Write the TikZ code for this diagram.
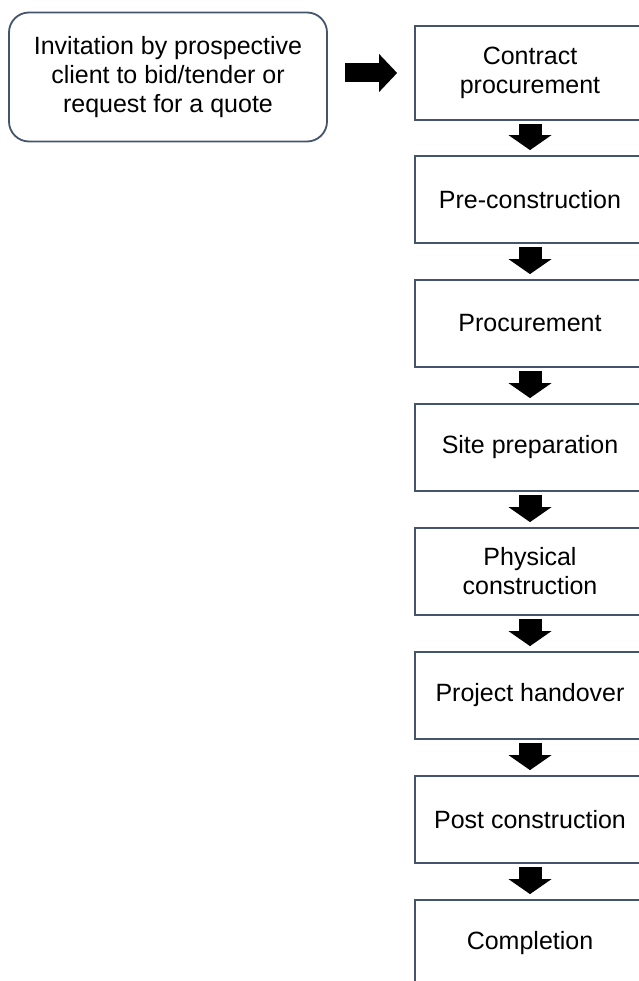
\documentclass[tikz,border=0pt]{standalone}
\usepackage{fontspec}
\setmainfont{Liberation Sans}
\usetikzlibrary{arrows.meta}
\definecolor{boxline}{HTML}{44546A}
\tikzset{
  stage/.style={draw=boxline, line width=1.8pt, fill=white, minimum width=230pt, minimum height=87pt, align=center, font=\fontsize{25}{29}\selectfont},
  flow/.style={line width=23pt, shorten <=3pt, shorten >=5pt, -{Triangle[width=43pt,length=15pt,line width=0pt]}}
}
\begin{document}
\begin{tikzpicture}[x=1pt,y=-1pt]
\useasboundingbox (0,0) rectangle (638,981);

\node[draw=boxline, line width=1.8pt, rounded corners=20pt, minimum width=318pt, minimum height=129pt, align=center, font=\fontsize{25}{29}\selectfont] (invite) at (168,77) {Invitation by prospective\\client to bid/tender or\\request for a quote};

\node[stage, minimum height=94pt] (contract) at (530,73) {Contract\\procurement};
\node[stage] (precon) at (530,199.5) {Pre-construction};
\node[stage] (procure) at (530,323.5) {Procurement};
\node[stage] (site) at (530,447.5) {Site preparation};
\node[stage] (physical) at (530,571.5) {Physical\\construction};
\node[stage] (handover) at (530,695.5) {Project handover};
\node[stage] (post) at (530,819.5) {Post construction};
\node[stage] (completion) at (530,943.5) {Completion};

\draw[line width=19pt, shorten <=17pt, shorten >=17pt, -{Triangle[width=38pt,length=18pt,line width=0pt]}] (invite.east |- contract.west) -- (contract.west);

\draw[flow] (contract) -- (precon);
\draw[flow] (precon) -- (procure);
\draw[flow] (procure) -- (site);
\draw[flow] (site) -- (physical);
\draw[flow] (physical) -- (handover);
\draw[flow] (handover) -- (post);
\draw[flow] (post) -- (completion);
\end{tikzpicture}
\end{document}
